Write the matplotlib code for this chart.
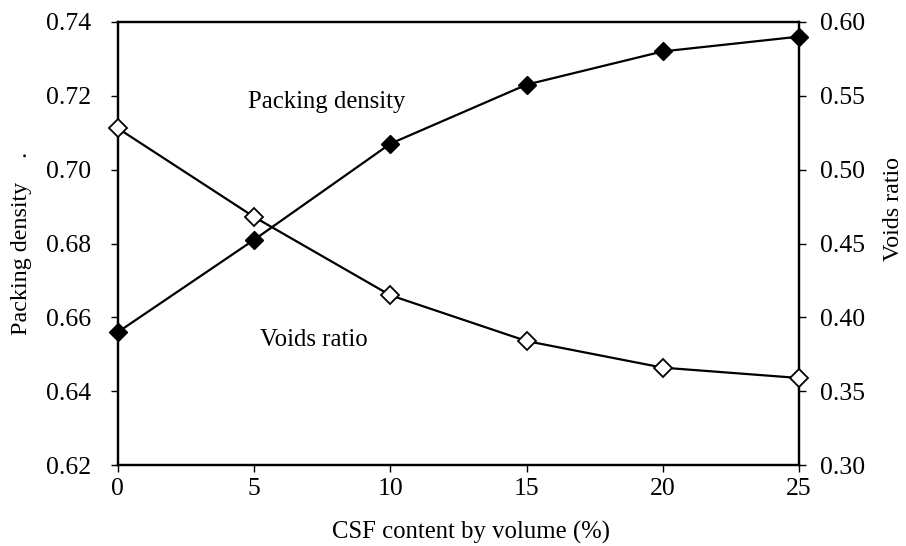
import matplotlib.pyplot as plt

plt.rcParams['font.family'] = ['Liberation Serif', 'DejaVu Serif']

csf = [0, 5, 10, 15, 20, 25]
packing_density = [0.656, 0.681, 0.707, 0.723, 0.732, 0.736]
voids_ratio = [0.528, 0.468, 0.415, 0.384, 0.366, 0.359]

fig = plt.figure(figsize=(9.06, 5.46), dpi=100)
ax = fig.add_axes([0.130, 0.148, 0.752, 0.812])
ax2 = ax.twinx()

ax.plot(csf, packing_density, color='black', lw=1.6, marker='D', ms=9,
        mfc='black', mec='black', clip_on=False, zorder=3)
ax2.plot(csf, voids_ratio, color='black', lw=1.6, marker='D', ms=9,
         mfc='white', mec='black', mew=1.3, clip_on=False, zorder=3)

ax.set_xlim(0, 25)
ax.set_ylim(0.62, 0.74)
ax2.set_ylim(0.30, 0.60)
ax.set_xticks(csf)
ax.set_yticks([0.62, 0.64, 0.66, 0.68, 0.70, 0.72, 0.74])
ax2.set_yticks([0.30, 0.35, 0.40, 0.45, 0.50, 0.55, 0.60])
ax.yaxis.set_major_formatter(plt.FormatStrFormatter('%.2f'))
ax2.yaxis.set_major_formatter(plt.FormatStrFormatter('%.2f'))

for a in (ax, ax2):
    for s in a.spines.values():
        s.set_linewidth(1.6)
    a.tick_params(direction='out', length=5, width=1, labelsize=18.5)
ax.tick_params(axis='y', pad=14)
ax.tick_params(axis='x', pad=4)
ax2.tick_params(axis='y', pad=10)

ax.set_xlabel('CSF content by volume (%)', fontsize=17.8, va='center')
ax.xaxis.set_label_coords(0.518, -0.152)
ax.set_ylabel('Packing density    .', fontsize=17.3, va='center')
ax.yaxis.set_label_coords(-0.141, 0.5)
ax2.set_ylabel('Voids ratio', fontsize=17.3, va='center')
ax2.yaxis.set_label_coords(1.138, 0.578)

ax.text(7.65, 0.7183, 'Packing density', fontsize=17.8, ha='center', va='center')
ax.text(7.2, 0.6539, 'Voids ratio', fontsize=17.8, ha='center', va='center')

fig.savefig('out.png', dpi=100)
